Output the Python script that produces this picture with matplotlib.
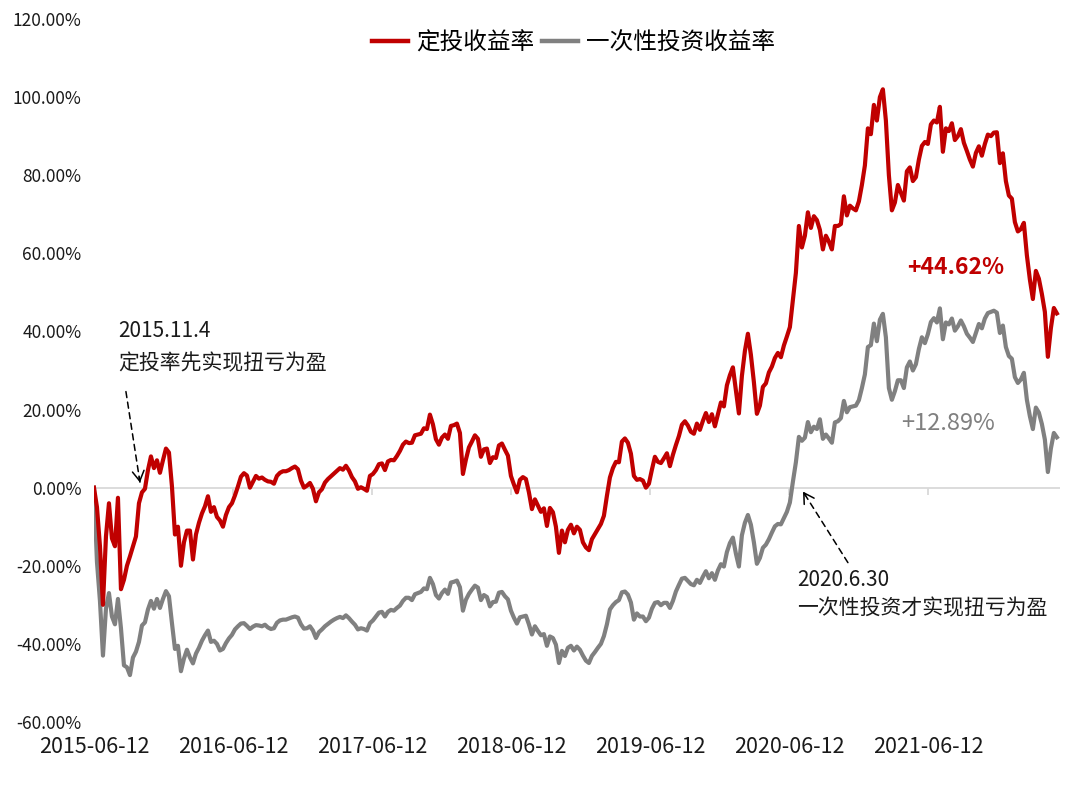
import pandas as pd
import matplotlib.pyplot as plt
from matplotlib.ticker import FuncFormatter

# ─── Style & Colors ──────────────────────────────────────────────────────────
plt.rcParams['font.family'] = ['Noto Sans CJK SC', 'DejaVu Sans']

RED = '#C00000'
GREY = '#808080'
TEXT = '#1A1A1A'
AXIS = '#D9D9D9'

# ─── Data (evenly spaced sample dates) ──────────────────────────────────────
start_date = '2015-06-12'
end_date = '2022-05-16'

# 定投收益率 (%)
dca_return = [
    0, -5, -15, -30, -12.5, -4, -13, -15, -2.6, -26,
    -23.6, -20, -17.6, -15, -12.5, -4, -1.2, -0.3, 4.5, 8,
    5, 7, 3.8, 7, 10, 9, 0.3, -12, -10, -20,
    -14, -11, -11, -18.4, -12, -9, -6.6, -4.8, -2.2, -6.2,
    -5, -7.5, -8.4, -10, -7, -5, -4, -2, 0.3, 2.8,
    3.7, 3.1, 0, 1.5, 3, 2.3, 2.6, 2, 1.6, 1.5,
    1, 3, 3.8, 4.2, 4.2, 4.5, 5, 5.4, 4.7, 1.8,
    0, 0.5, 1.2, -0.3, -3.5, -1.2, -0.4, 1.3, 2.2, 2.9,
    3.6, 4.3, 5, 4.6, 5.6, 4.4, 2.7, 1.6, -0.3, 0.1,
    -0.3, -0.8, 3, 3.5, 4.5, 6, 6.2, 4.5, 6.7, 7.1,
    7, 8.1, 9.4, 11, 11.8, 11.4, 11.5, 13.4, 13.6, 13.8,
    15.2, 15, 18.7, 16.2, 12.4, 11, 12.8, 13.6, 12.5, 15.8,
    16, 16.4, 14, 3.5, 7.2, 10.3, 11.8, 13.4, 12.5, 7.9,
    9.8, 10, 6.3, 7.8, 7.6, 10.8, 11.3, 9.7, 8.2, 3,
    0.8, -1.2, 2, 2.7, 2.2, -1.2, -5.5, -3, -4.6, -6.2,
    -5.3, -9.8, -5.2, -6.3, -10, -16.7, -11, -14, -10.8, -9.5,
    -11.7, -10, -10.8, -14, -15.3, -16, -13.2, -11.9, -10.6, -9.3,
    -7.2, -2.1, 2.6, 5, 6.6, 6.5, 11.8, 12.6, 11.5, 8.7,
    3, 2, 2.2, 1.8, 0, 1, 4.6, 7.9, 6.6, 6.3,
    7.5, 8.8, 5.5, 8.4, 10.9, 13.2, 16.1, 17, 15.9, 14.3,
    13.8, 16.4, 14.8, 17.1, 19.1, 16.8, 18.8, 15.7, 18.8, 21.8,
    20.8, 26.2, 28.8, 30.8, 25, 19, 28.6, 35, 39.4, 34,
    27, 18.9, 21, 25.8, 26.7, 29.5, 31, 33.2, 34.5, 33.4,
    36.4, 38.7, 41.1, 48, 55, 67, 61.5, 64.5, 70.5, 66.5,
    69.5, 68.5, 66, 61, 64.5, 63, 61, 67, 67, 67.5,
    74.6, 69.7, 72.2, 71.5, 71, 73.3, 77.5, 82.5, 92, 90.5,
    98, 94, 100, 102, 94, 80, 71, 73, 77.5, 75.5,
    73.5, 81, 82, 78.5, 79.5, 84, 87.5, 88.5, 88, 93,
    94, 93.5, 97.5, 86, 92, 91.3, 93.3, 89, 90, 91.8,
    88.3, 86.2, 84, 82.2, 85.7, 87.4, 85, 88, 90.4, 90,
    90.9, 91, 83.1, 85.6, 78.5, 74.8, 74, 68, 65.6, 66.2,
    67.8, 59.5, 53.3, 48.3, 55.5, 53.5, 49.6, 45, 33.5, 40.8,
    46, 44.62,
]

# 一次性投资收益率 (%)
lump_return = [
    0, -19, -29, -43, -31, -27, -33, -35, -28.5, -36,
    -45.5, -46, -48, -43.5, -42, -39.5, -35.3, -34.5, -31.2, -29,
    -31, -28.5, -30.8, -28.5, -26.5, -27.8, -34.7, -41.3, -40.5, -47,
    -43.8, -41.5, -43.5, -45, -42.5, -41, -39.2, -37.8, -36.6, -39.5,
    -39.2, -40, -41.7, -41.3, -39.8, -38.6, -37.7, -36.3, -35.5, -34.8,
    -34.7, -35.4, -36.2, -35.6, -35.2, -35.3, -35.5, -35.1, -35.8, -36.2,
    -36, -34.6, -34, -33.8, -33.8, -33.5, -33.2, -33, -33.3, -35,
    -36.1, -36, -35.5, -36.6, -38.5, -37, -36.3, -35.5, -34.9, -34.3,
    -33.8, -33.4, -33.1, -33.4, -32.7, -33.4, -34.3, -35.1, -36.3, -36,
    -36.2, -36.6, -34.7, -34, -33, -32, -31.8, -33, -31.8, -31.3,
    -31.5, -30.8, -30.2, -29, -28.2, -28.2, -28.8, -27.3, -27, -26.7,
    -25.8, -26, -23.1, -24.7, -27.5, -28.4, -27, -26.1, -27.2, -24.3,
    -24.1, -23.8, -25.5, -31.5, -28.7, -27.2, -26.1, -25.1, -25.6, -28.8,
    -27.5, -28, -30.4, -29.3, -29.2, -26.9, -26.7, -27.8, -28.6, -31.5,
    -33.3, -34.8, -33.2, -33, -32.8, -35, -37.6, -35.5, -36.7, -37.8,
    -37.5, -40.5, -38.1, -38.5, -40.2, -44.9, -41.8, -43.1, -41, -40.5,
    -41.7, -40.7, -41.5, -43, -44.3, -44.9, -43.1, -42.1, -41, -40,
    -38, -35, -31.2, -30.1, -29.3, -28.8, -26.8, -26.6, -27.4, -29.4,
    -33.8, -32.2, -33, -33, -34.2, -33.3, -31, -29.5, -29.3, -30.1,
    -29.5, -29.5, -30.8, -29, -26.6, -24.9, -23.3, -23.1, -23.9, -24.7,
    -25, -23.6, -24.4, -22.8, -21.4, -23.2, -21.9, -23.6, -21.2, -19.6,
    -20.2, -16.5, -14.2, -12.8, -16.9, -20.2, -12.2, -9, -7, -9.5,
    -14, -19.5, -18, -15.4, -14.6, -13.2, -11.5, -9.9, -9.3, -9.4,
    -7.8, -6.2, -3.8, 1.5, 6.5, 13, 12, 12.8, 16.8, 14.2,
    15.6, 15, 17.5, 12.5, 13.6, 12.6, 11.5, 16.7, 17, 17.8,
    22.2, 19.3, 20.6, 20.8, 21, 22.4, 25.5, 29, 36, 36.5,
    42, 37.5, 43, 44.5, 38.5, 25.5, 22.5, 24.7, 27.5, 27.5,
    25.5, 30.8, 32.3, 30, 31.6, 35.5, 38.5, 37, 39.3, 42.4,
    43.4, 42.3, 45.9, 38, 42.3, 41.8, 43.3, 40.2, 41.3, 42.8,
    41.3, 39.4, 38.4, 37.3, 39.6, 41.9, 40.8, 43.3, 44.7, 45,
    45.3, 44.8, 39.6, 41.5, 36, 33.7, 33, 28.3, 26.8, 27.7,
    29.4, 22.5, 18.3, 15, 20.5, 19.2, 16.3, 12.3, 4, 10,
    14, 12.89,
]

tick_dates = ['2015-06-12', '2016-06-12', '2017-06-12', '2018-06-12',
              '2019-06-12', '2020-06-12', '2021-06-12']
y_ticks = [-60, -40, -20, 0, 20, 40, 60, 80, 100, 120]

assert len(dca_return) == len(lump_return)
dates = pd.date_range(start_date, end_date, periods=len(dca_return))
ticks = pd.to_datetime(tick_dates)

# ─── Visualization ───────────────────────────────────────────────────────────
fig = plt.figure(figsize=(10.8, 7.88), dpi=100)
ax = fig.add_axes([0.087, 0.0838, 0.8944, 0.8921])

ax.plot(dates, dca_return, color=RED, lw=3.0, label='定投收益率', zorder=3)
ax.plot(dates, lump_return, color=GREY, lw=3.0, label='一次性投资收益率', zorder=2)

# zero line with small ticks hanging below it (Excel style)
ax.axhline(0, color=AXIS, lw=1.3, zorder=1)
ax.vlines(ticks, -1.8, 0, color=AXIS, lw=1.3, zorder=1)

ax.set_xlim(pd.Timestamp(start_date), pd.Timestamp('2022-05-24'))
ax.set_ylim(-60, 120)
ax.set_yticks(y_ticks)
ax.yaxis.set_major_formatter(FuncFormatter(lambda v, _: f'{v:.2f}%'))
ax.set_xticks(ticks)
ax.set_xticklabels(tick_dates)
ax.tick_params(axis='y', length=0, pad=9, labelsize=12.5, labelcolor=TEXT)
ax.tick_params(axis='x', length=0, pad=10, labelsize=15.5, labelcolor=TEXT)
for s in ax.spines.values():
    s.set_visible(False)

leg = ax.legend(loc='center', bbox_to_anchor=(573.5 / 1080, 745 / 788),
                bbox_transform=fig.transFigure, ncol=2, frameon=False,
                fontsize=17, handlelength=1.55, handletextpad=0.35,
                columnspacing=0.3)
for line in leg.get_lines():
    line.set_linewidth(3.2)


def dashed_arrow(start, tip):
    (x0, y0), (x1, y1) = start, tip
    ax.annotate('', xy=tip, xytext=start,
                arrowprops=dict(arrowstyle='-', ls=(0, (4, 3)), lw=1.1,
                                color='black', shrinkA=0, shrinkB=0))
    near = (x1 + (x0 - x1) * 0.06, y1 + (y0 - y1) * 0.06)
    ax.annotate('', xy=tip, xytext=near,
                arrowprops=dict(arrowstyle='->,head_length=0.6,head_width=0.35',
                                lw=1.1, color='black', shrinkA=0, shrinkB=0,
                                mutation_scale=12))


dashed_arrow((pd.Timestamp('2015-09-04'), 24.6), (pd.Timestamp('2015-10-11'), 1.3))
dashed_arrow((pd.Timestamp('2020-11-13'), -19.2), (pd.Timestamp('2020-07-18'), -1.0))

note_kw = dict(fontsize=15, color=TEXT, ha='left', va='center')
ax.text(pd.Timestamp('2015-08-14'), 40.0, '2015.11.4', **note_kw)
ax.text(pd.Timestamp('2015-08-14'), 31.8, '定投率先实现扭亏为盈', **note_kw)
ax.text(pd.Timestamp('2020-07-02'), -23.6, '2020.6.30', **note_kw)
ax.text(pd.Timestamp('2020-07-02'), -31.0, '一次性投资才实现扭亏为盈', **note_kw)

ax.text(pd.Timestamp('2021-08-24'), 56.3, f'+{dca_return[-1]:.2f}%', color=RED,
        fontsize=16.5, fontweight='bold', ha='center', va='center')
ax.text(pd.Timestamp('2021-08-03'), 16.4, f'+{lump_return[-1]:.2f}%', color=GREY,
        fontsize=17, ha='center', va='center')

fig.savefig('out.png', dpi=100)
plt.close(fig)
